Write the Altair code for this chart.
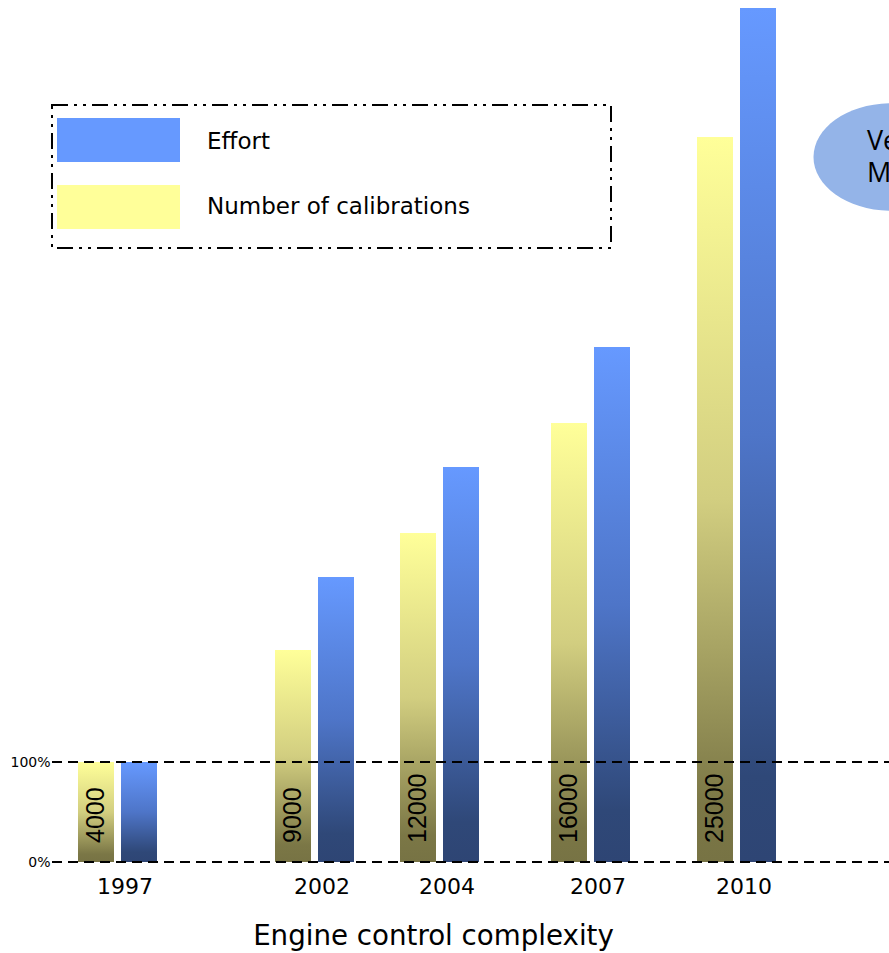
import altair as alt
import pandas as pd

# ---- data ----
years = [1997, 2002, 2004, 2007, 2010]
calibrations_pct = [100, 212, 329, 439, 725]     # yellow bars, % of 1997
effort_pct = [100, 285, 395, 515, 854]           # blue bars, % of 1997
calibration_counts = ["4000", "9000", "12000", "16000", "25000"]
y_tick_values = [0, 100]
series_names = ["Effort", "Number of calibrations"]
callout_lines = ["Ve", "M"]
x_title = "Engine control complexity"

df = pd.DataFrame({
    "year": years,
    "calib": calibrations_pct,
    "effort": effort_pct,
    "count": calibration_counts,
})
grid_df = pd.DataFrame({"v": y_tick_values})

FONT = "DejaVu Sans"
W, H = 837, 862

yellow_grad = alt.Gradient(
    gradient="linear", x1=0, x2=0, y1=0, y2=1,
    stops=[alt.GradientStop(color="#FFFF99", offset=0),
           alt.GradientStop(color="#D2CE80", offset=0.5),
           alt.GradientStop(color="#7B7746", offset=0.92),
           alt.GradientStop(color="#777344", offset=1)])
blue_grad = alt.Gradient(
    gradient="linear", x1=0, x2=0, y1=0, y2=1,
    stops=[alt.GradientStop(color="#6699FF", offset=0),
           alt.GradientStop(color="#4E75C8", offset=0.5),
           alt.GradientStop(color="#2F4878", offset=0.9),
           alt.GradientStop(color="#2E4574", offset=1)])

xscale = alt.Scale(domain=years, range=[65.5, 262.5, 387.5, 538.5, 684.5],
                   nice=False, padding=0)
yscale = alt.Scale(domain=[0, H], nice=False, zero=True, padding=0)

x_axis = alt.Axis(values=years, format="d", domain=False, ticks=False, grid=False,
                  labelFlush=False, labelOverlap=False,
                  labelFont=FONT, labelFontSize=22, labelColor="black",
                  labelBaseline="alphabetic", labelPadding=31, labelOffset=7,
                  title=x_title, titleFont=FONT, titleFontSize=27.7,
                  titleFontWeight="normal", titleColor="black",
                  titleX=381, titleY=82, titleBaseline="alphabetic", titleAnchor="middle",
                  titleAlign="center")
y_axis = alt.Axis(values=y_tick_values, labelExpr="datum.value + '%'", domain=False,
                  ticks=False, grid=False, labelFlush=False, labelFont=FONT,
                  labelFontSize=14, labelColor="black", labelPadding=2, title=None)

base = alt.Chart(df)

yellow = base.mark_bar(width=36, xOffset=-21.5, color=yellow_grad).encode(
    x=alt.X("year:Q", scale=xscale, axis=x_axis),
    y=alt.Y("calib:Q", scale=yscale, axis=y_axis),
    y2=alt.datum(0),
)
blue = base.mark_bar(width=36, xOffset=21.5, color=blue_grad).encode(
    x=alt.X("year:Q", scale=xscale),
    y=alt.Y("effort:Q", scale=yscale),
    y2=alt.datum(0),
)
counts = base.mark_text(angle=270, align="left", baseline="middle", xOffset=-21.5,
                        font="Liberation Sans", fontSize=25, color="black").encode(
    x=alt.X("year:Q", scale=xscale),
    y=alt.value(843),
    text="count:N",
)

grid = alt.Chart(grid_df).mark_rule(color="black", strokeWidth=2,
                                    strokeDash=[10, 6]).encode(
    y=alt.Y("v:Q", scale=yscale),
    x=alt.value(0), x2=alt.value(W),
)

one = alt.Data(values=[{}])

legend_box = alt.Chart(one).mark_rect(filled=False, stroke="black", strokeWidth=2,
                                      strokeDash=[16, 6, 3, 6, 3, 6]).encode(
    x=alt.value(0), x2=alt.value(559), y=alt.value(105), y2=alt.value(248))
sw_blue = alt.Chart(one).mark_rect(color="#6699FF").encode(
    x=alt.value(5), x2=alt.value(128), y=alt.value(118), y2=alt.value(162))
sw_yellow = alt.Chart(one).mark_rect(color="#FFFF99").encode(
    x=alt.value(5), x2=alt.value(128), y=alt.value(185), y2=alt.value(229))
lt1 = alt.Chart(one).mark_text(text=series_names[0], align="left", baseline="middle",
                               font=FONT, fontSize=23, color="black").encode(
    x=alt.value(155), y=alt.value(142))
lt2 = alt.Chart(one).mark_text(text=series_names[1], align="left", baseline="middle",
                               font=FONT, fontSize=23, color="black").encode(
    x=alt.value(155), y=alt.value(207))

ellipse = alt.Chart(one).mark_point(
    shape="M -1 0 A 1 0.69 0 1 0 1 0 A 1 0.69 0 1 0 -1 0",
    filled=True, fill="#94B4E8", opacity=1, strokeWidth=0, size=24336).encode(
    x=alt.value(839.5), y=alt.value(157))
ct1 = alt.Chart(one).mark_text(text=callout_lines[0], align="left", baseline="middle",
                               font="Open Sans", fontSize=27, color="black").encode(
    x=alt.value(815), y=alt.value(142))
ct2 = alt.Chart(one).mark_text(text=callout_lines[1], align="left", baseline="middle",
                               font="Open Sans", fontSize=27, color="black").encode(
    x=alt.value(815), y=alt.value(174))

chart = alt.layer(
    ellipse, ct1, ct2, yellow, blue, grid, counts, legend_box, sw_blue, sw_yellow, lt1, lt2
).properties(
    width=W, height=H,
    autosize=alt.AutoSizeParams(type="none"),
    padding={"left": 52, "top": 0, "right": 0, "bottom": 91},
    background="white",
).configure_view(stroke=None)

chart.save("out.html", embed_options={"renderer": "svg", "actions": False})
